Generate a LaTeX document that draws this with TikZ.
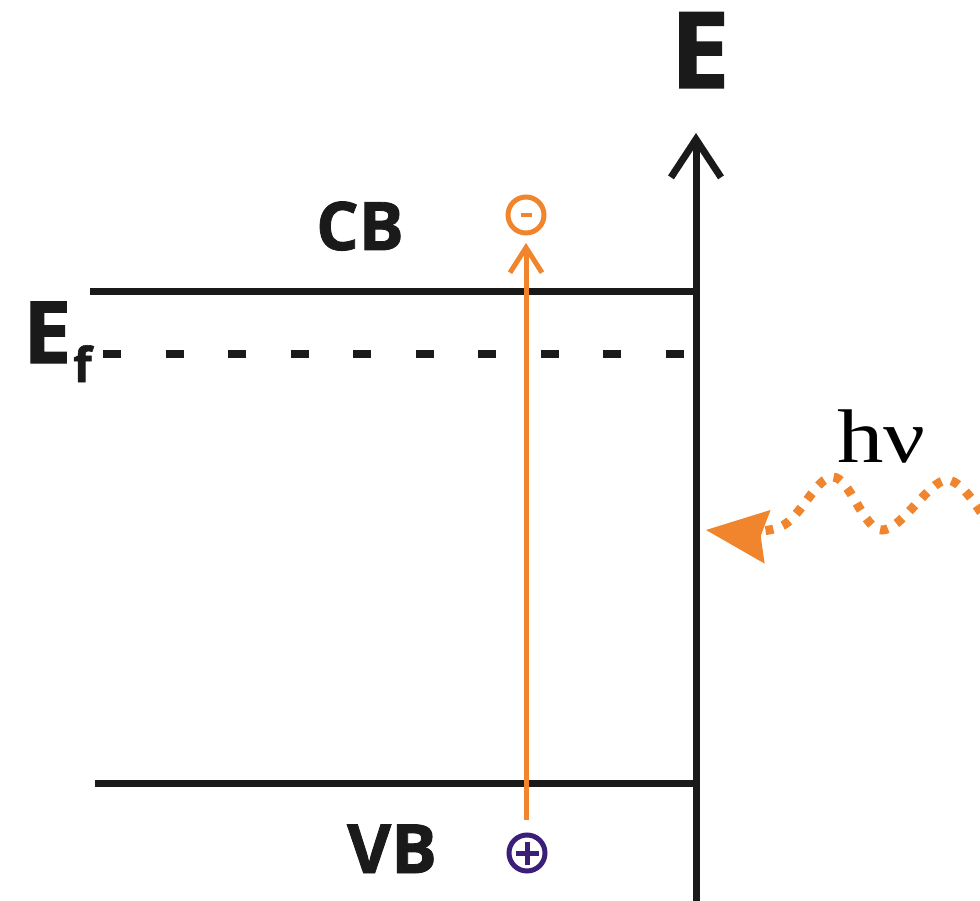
\documentclass[tikz,border=0pt]{standalone}
\usepackage{fontspec}
\setmainfont{Liberation Serif}
\newfontfamily\lblfont{Open Sans}[FakeBold=1.2]
\usetikzlibrary{arrows.meta}
\definecolor{orng}{HTML}{F0852D}
\definecolor{purp}{HTML}{3B1E78}
\definecolor{ink}{HTML}{1A1A1A}
\tikzset{
  lbl/.style={inner sep=0pt, anchor=base, text=ink, font=\lblfont\bfseries},
  band/.style={draw=ink, line width=7pt},
  carrier/.style={circle, line width=5pt, minimum size=36pt, inner sep=0pt},
}
\begin{document}
\begin{tikzpicture}[x=1pt,y=-1pt]
\useasboundingbox (0,0) rectangle (980,901);
% axis
\coordinate (axbot) at (696,905);
\coordinate (axtop) at (696,133);
\draw[draw=ink, line width=7pt, -{Straight Barb[length=38pt,width=50pt]}] (axbot) -- (axtop);
\node[lbl, font=\lblfont\bfseries\fontsize{106}{106}\selectfont] (E) at (700,88) {E};
% bands
\coordinate (cbL) at (90,292);
\coordinate (cbR) at (699,292);
\coordinate (vbL) at (95,783);
\coordinate (vbR) at (699,783);
\draw[band] (cbL) -- (cbR);
\draw[band] (vbL) -- (vbR);
\node[lbl, font=\lblfont\bfseries\fontsize{67}{67}\selectfont] (CB) at (360,250) {CB};
\node[lbl, font=\lblfont\bfseries\fontsize{68}{68}\selectfont] (VB) at (392,873) {VB};
% Fermi level
\coordinate (efL) at (103,354);
\coordinate (efR) at (683.5,354);
\draw[draw=ink, line width=8pt, dash pattern=on 18pt off 44.5pt] (efL) -- (efR);
\node[lbl, anchor=base west, font=\lblfont\bfseries\fontsize{86}{86}\selectfont] (Ef) at (23,363) {E};
\node[lbl, anchor=base west, font=\lblfont\bfseries\fontsize{48}{48}\selectfont] (f) at (73,382) {f};
% carriers
\node[carrier, draw=orng] (minus) at (526,215) {};
\draw[orng, line width=4.5pt] ([xshift=-5.5pt]minus.center) -- ([xshift=5.5pt]minus.center);
\node[carrier, draw=purp] (plus) at (527,853) {};
\draw[purp, line width=5pt] ([xshift=-11.5pt]plus.center) -- ([xshift=11.5pt]plus.center);
\draw[purp, line width=5pt] ([yshift=-11.5pt]plus.center) -- ([yshift=11.5pt]plus.center);
\coordinate (trS) at (526,820);
\coordinate (trE) at (526,243);
\draw[orng, line width=5pt, -{Straight Barb[length=25pt,width=32pt]}] (trS) -- (trE);
% photon
\node[inner sep=0pt, anchor=base west, font=\fontsize{76}{76}\selectfont] (hv) at (837,462) {\scalebox{1.22}[1]{hν}};
\coordinate (tip) at (706,530);
\draw[orng, line width=9pt, dash pattern=on 8pt off 10pt,
      -{Stealth[length=62pt,width=54pt,inset=7pt,line width=0pt]}]
  plot[smooth, tension=0.6] coordinates {(990,528) (947,480) (882,530) (833,477) (780,527) (706,530)};
\end{tikzpicture}
\end{document}
